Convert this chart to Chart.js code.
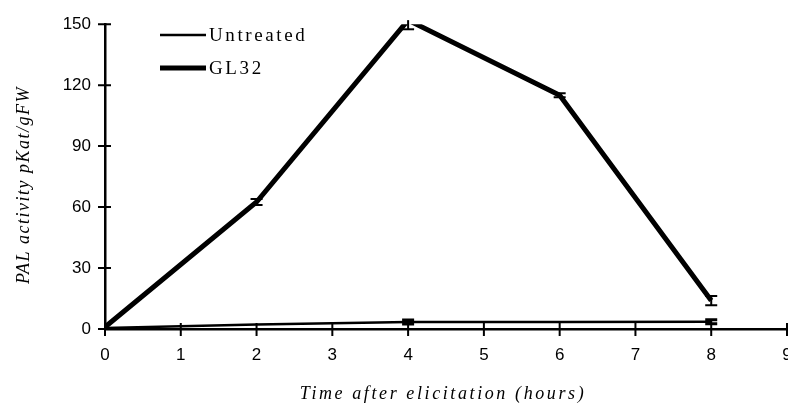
<!DOCTYPE html>
<html>
<head>
<meta charset="utf-8">
<script src="https://cdn.jsdelivr.net/npm/chart.js@4"></script>
<style>
  html, body { margin: 0; padding: 0; background: #ffffff; }
  #wrap { width: 788px; height: 403px; }
</style>
</head>
<body>
<div id="wrap"><canvas id="grafico"></canvas></div>
<script>
const hours = [0, 2, 4, 6, 8];
const untreated = [0.5, 2.2, 3.4, 3.5, 3.6];
const untreatedErrLow = [0, 0, 1, 0, 1];
const untreatedErrHigh = [0, 0, 1, 0, 1];
const gl32 = [1, 62.5, 152, 115, 14];
const gl32ErrLow = [0, 1.5, 4.5, 1, 2.3];
const gl32ErrHigh = [0, 1.5, 0, 1, 2.3];
const xTicks = [0, 1, 2, 3, 4, 5, 6, 7, 8, 9];
const yTicks = [0, 30, 60, 90, 120, 150];

const sans = "'Liberation Sans', Arial, sans-serif";
const serif = "'Liberation Serif', 'Times New Roman', serif";

function toPoints(ys) {
  return hours.map((h, i) => ({ x: h, y: ys[i] }));
}

// error bars, crossing tick marks, legend and axis titles
const extras = {
  id: 'extras',
  afterDatasetsDraw(chart) {
    const ctx = chart.ctx;
    const xs = chart.scales.x;
    const ys = chart.scales.y;
    const area = chart.chartArea;

    ctx.save();
    ctx.strokeStyle = '#000';
    const sets = [
      [untreated, untreatedErrLow, untreatedErrHigh, 3],
      [gl32, gl32ErrLow, gl32ErrHigh, 2]
    ];
    sets.forEach(([vals, lows, highs, capLw]) => {
      vals.forEach((v, i) => {
        if (!lows[i] && !highs[i]) return;
        const px = xs.getPixelForValue(hours[i]);
        const top = ys.getPixelForValue(v + highs[i]);
        const bot = ys.getPixelForValue(v - lows[i]);
        ctx.lineWidth = 2;
        ctx.beginPath();
        ctx.moveTo(px, top);
        ctx.lineTo(px, bot);
        ctx.stroke();
        ctx.lineWidth = capLw;
        ctx.beginPath();
        if (highs[i]) { ctx.moveTo(px - 6, top); ctx.lineTo(px + 6, top); }
        if (lows[i]) { ctx.moveTo(px - 6, bot); ctx.lineTo(px + 6, bot); }
        ctx.stroke();
      });
    });

    // ticks that cross the axes
    ctx.lineWidth = 2;
    ctx.beginPath();
    xTicks.forEach(t => {
      const px = xs.getPixelForValue(t);
      ctx.moveTo(px, area.bottom - 6);
      ctx.lineTo(px, area.bottom + 7);
    });
    yTicks.forEach(t => {
      const py = ys.getPixelForValue(t);
      ctx.moveTo(area.left - 7, py);
      ctx.lineTo(area.left + 6, py);
    });
    ctx.stroke();

    // legend
    ctx.fillStyle = '#000';
    ctx.font = '19px ' + serif;
    ctx.letterSpacing = '2.6px';
    ctx.textBaseline = 'middle';
    ctx.textAlign = 'left';
    chart.data.datasets.forEach((ds, i) => {
      const y = 35 + i * 33;
      ctx.lineWidth = ds.borderWidth;
      ctx.beginPath();
      ctx.moveTo(160, y);
      ctx.lineTo(206, y);
      ctx.stroke();
      ctx.fillText(ds.label, 209, y + 1);
    });

    // axis titles
    ctx.font = 'italic 18px ' + serif;
    ctx.letterSpacing = '2.6px';
    ctx.textAlign = 'center';
    ctx.textBaseline = 'alphabetic';
    ctx.fillText('Time after elicitation (hours)', (area.left + area.right) / 2 - 3, 399);

    ctx.letterSpacing = '1.5px';
    ctx.translate(29, 185);
    ctx.rotate(-Math.PI / 2);
    ctx.fillText('PAL activity pKat/gFW', 0, 0);
    ctx.restore();
  }
};

new Chart(document.getElementById('grafico'), {
  type: 'line',
  data: {
    datasets: [
      {
        label: 'Untreated',
        data: toPoints(untreated),
        borderColor: '#000',
        borderWidth: 2.5,
        pointRadius: 0,
        tension: 0
      },
      {
        label: 'GL32',
        data: toPoints(gl32),
        borderColor: '#000',
        borderWidth: 5,
        pointRadius: 0,
        tension: 0,
        borderJoinStyle: 'miter'
      }
    ]
  },
  plugins: [extras],
  options: {
    responsive: true,
    maintainAspectRatio: false,
    animation: false,
    layout: { padding: { top: 21, right: 1, left: 0, bottom: 0 } },
    plugins: {
      legend: { display: false },
      tooltip: { enabled: false }
    },
    scales: {
      x: {
        type: 'linear',
        min: 0,
        max: 9,
        afterBuildTicks: s => { s.ticks = xTicks.map(v => ({ value: v })); },
        afterFit: s => { s.height = 74; s.paddingLeft = 0; s.paddingRight = 0; },
        grid: { display: false, drawTicks: false },
        border: { display: true, color: '#000', width: 2.5 },
        ticks: {
          font: { size: 17, family: sans },
          color: '#000',
          padding: 16,
          maxRotation: 0,
          autoSkip: false
        }
      },
      y: {
        min: 0,
        max: 150,
        afterBuildTicks: s => { s.ticks = yTicks.map(v => ({ value: v })); },
        afterFit: s => { s.width = 105; },
        grid: { display: false, drawTicks: false },
        border: { display: true, color: '#000', width: 2.5 },
        ticks: {
          font: { size: 17, family: sans },
          color: '#000',
          padding: 14
        }
      }
    }
  }
});
</script>
</body>
</html>
